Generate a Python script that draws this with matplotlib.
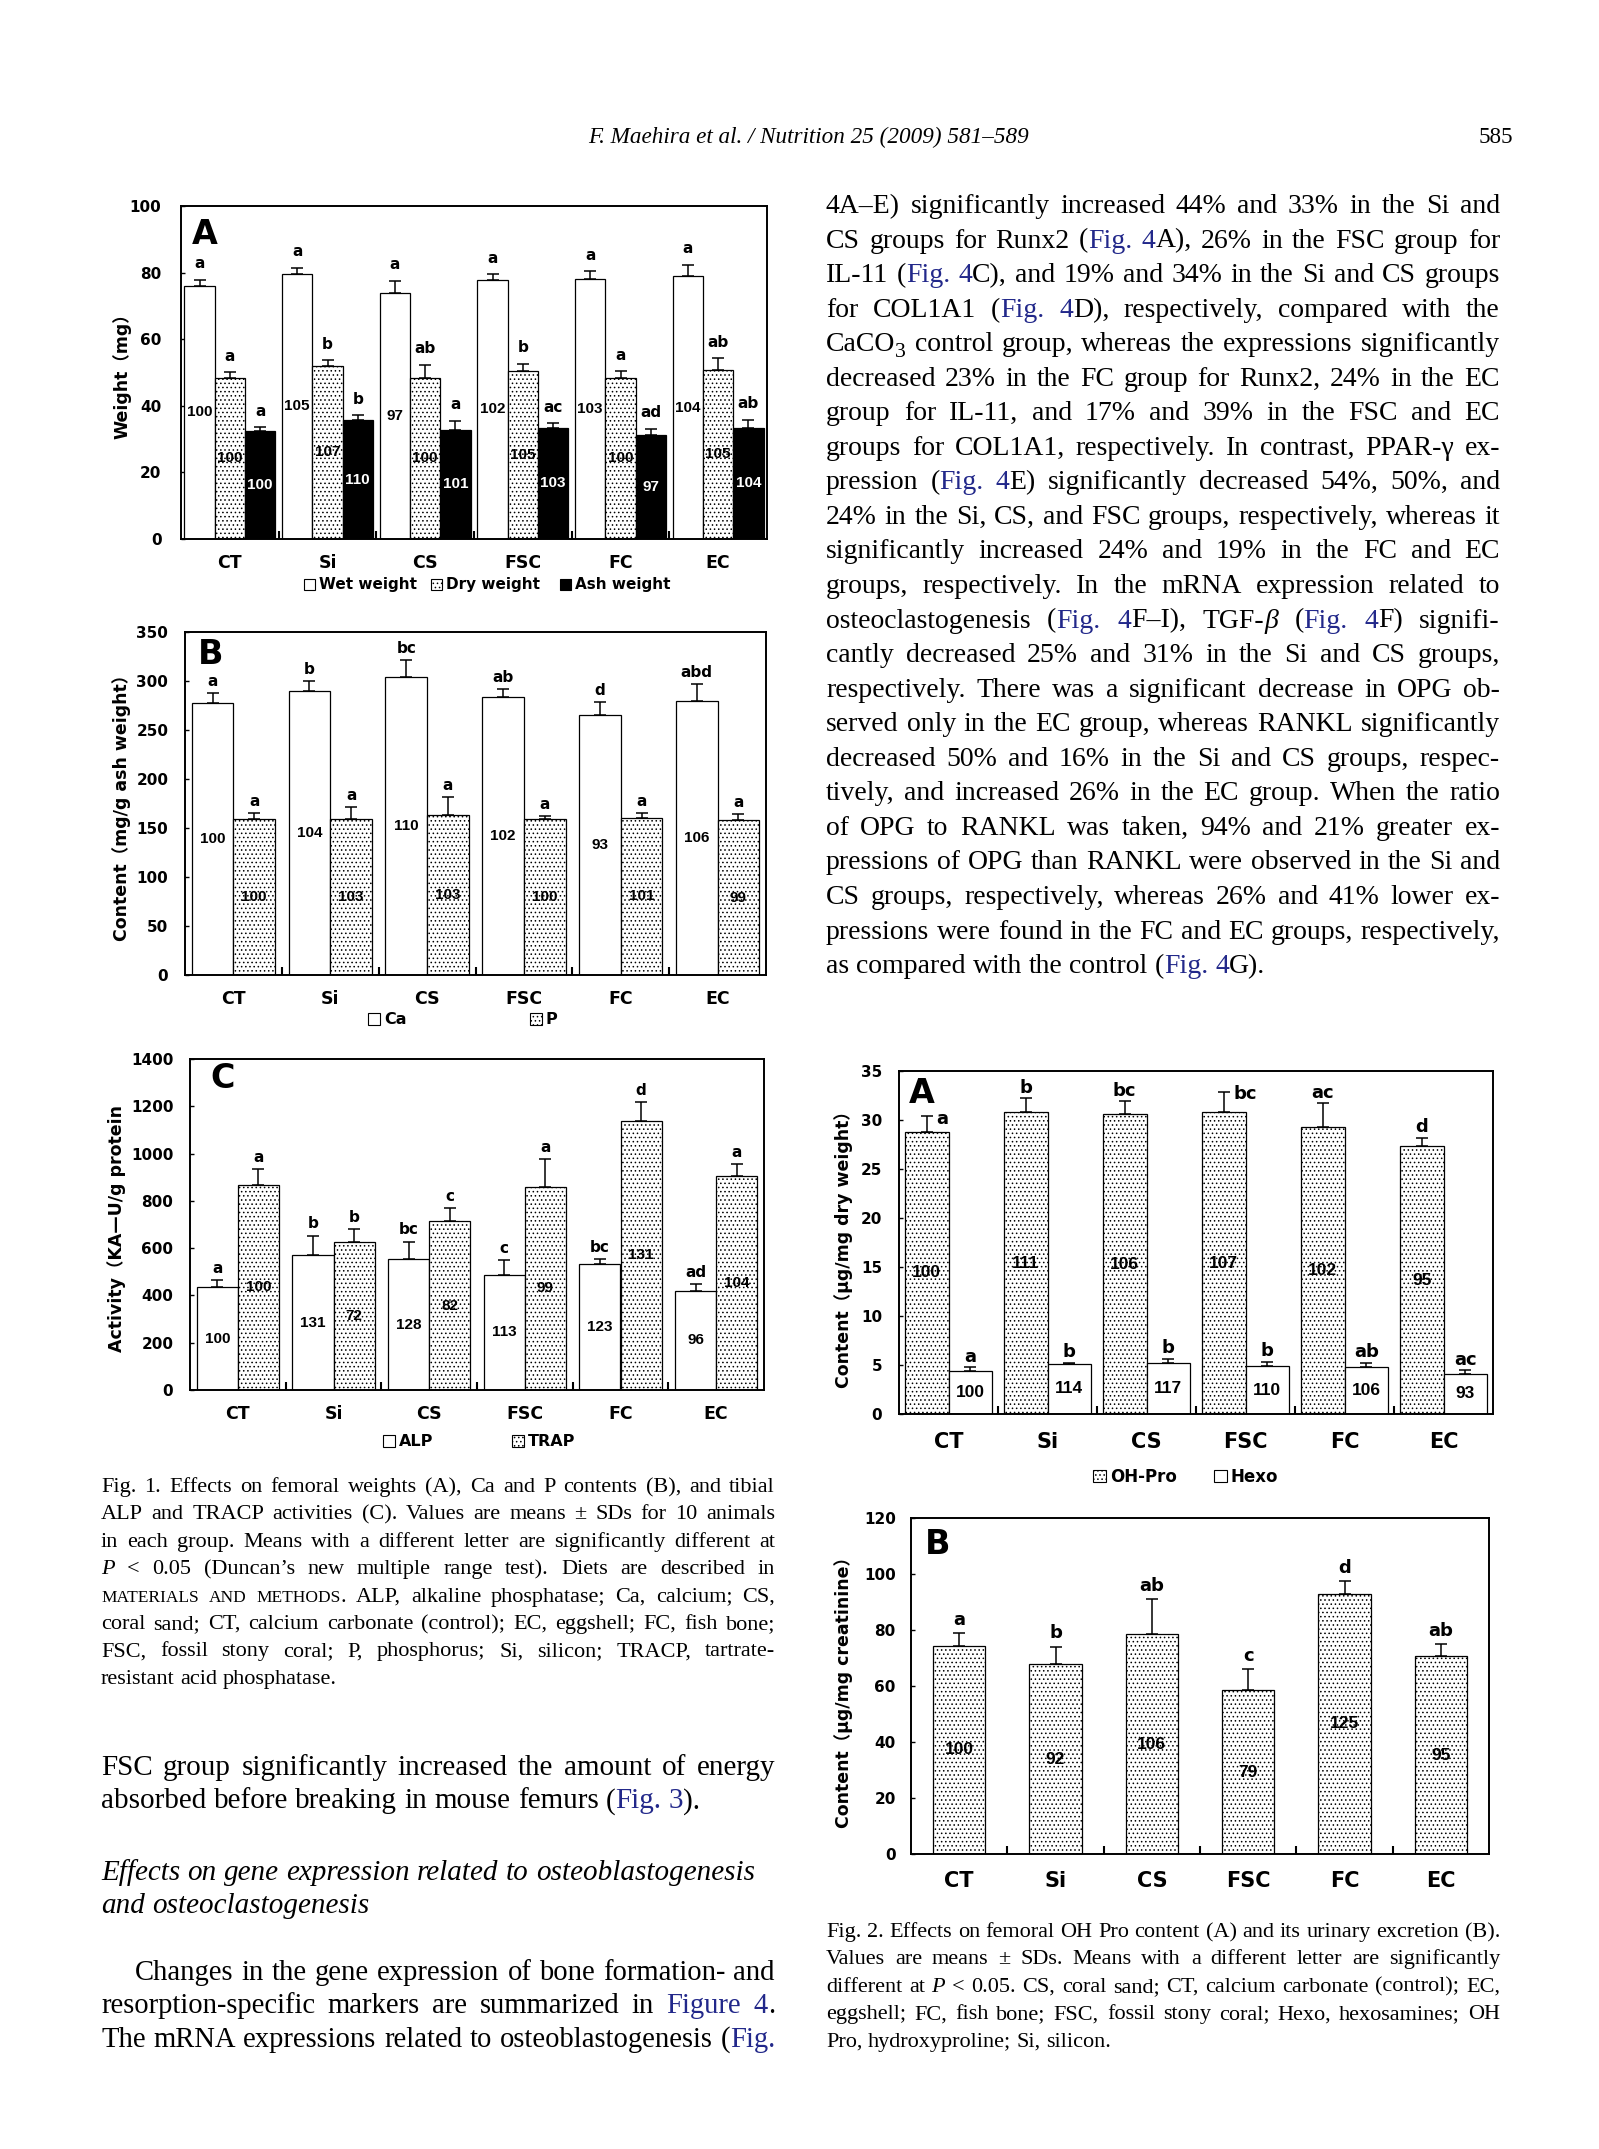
import numpy as np
import matplotlib
matplotlib.use('Agg')
import matplotlib.pyplot as plt
from matplotlib.patches import Patch
from matplotlib.transforms import IdentityTransform

W, H, DPI = 1599, 2149, 100

groups = ['CT', 'Si', 'CS', 'FSC', 'FC', 'EC']

# Fig. 1A femoral weights (mg)
wet = [76.1, 79.6, 74.0, 77.9, 78.2, 78.9]
wet_sd = [1.8, 1.9, 3.6, 1.7, 2.2, 3.5]
dry = [48.4, 52.0, 48.4, 50.5, 48.4, 50.9]
dry_sd = [1.8, 1.7, 4.0, 2.2, 2.1, 3.5]
ash = [32.4, 35.6, 32.8, 33.4, 31.3, 33.4]
ash_sd = [1.2, 1.6, 2.7, 1.4, 1.8, 2.4]
wet_let = ['a', 'a', 'a', 'a', 'a', 'a']
dry_let = ['a', 'b', 'ab', 'b', 'a', 'ab']
ash_let = ['a', 'b', 'a', 'ac', 'ad', 'ab']
wet_pct = [100, 105, 97, 102, 103, 104]
dry_pct = [100, 107, 100, 105, 100, 105]
ash_pct = [100, 110, 101, 103, 97, 104]

# Fig. 1B Ca and P content (mg/g ash weight)
ca = [277.3, 289.4, 303.8, 283.2, 265.2, 279.7]
ca_sd = [10.0, 10.6, 17.9, 8.2, 13.5, 16.9]
p = [159.5, 159.5, 162.9, 159.5, 160.5, 158.1]
p_sd = [5.8, 12.0, 18.3, 2.4, 4.8, 6.2]
ca_let = ['a', 'b', 'bc', 'ab', 'd', 'abd']
p_let = ['a', 'a', 'a', 'a', 'a', 'a']
ca_pct = [100, 104, 110, 102, 93, 106]
p_pct = [100, 103, 103, 100, 101, 99]

# Fig. 1C ALP and TRAP activity (KA-U/g protein)
alp = [434, 570, 552, 488, 534, 419]
alp_sd = [31, 83, 76, 60, 20, 29]
trap = [869, 624, 713, 859, 1139, 905]
trap_sd = [64, 56, 56, 116, 80, 49]
alp_let = ['a', 'b', 'bc', 'c', 'bc', 'ad']
trap_let = ['a', 'b', 'c', 'a', 'd', 'a']
alp_pct = [100, 131, 128, 113, 123, 96]
trap_pct = [100, 72, 82, 99, 131, 104]

# Fig. 2A OH-Pro and Hexo (ug/mg dry weight)
ohpro = [28.8, 30.8, 30.6, 30.8, 29.3, 27.3]
ohpro_sd = [1.6, 1.4, 1.3, 2.1, 2.4, 0.9]
hexo = [4.37, 5.12, 5.22, 4.88, 4.75, 4.13]
hexo_sd = [0.38, 0.10, 0.41, 0.45, 0.47, 0.37]
ohpro_let = ['a', 'b', 'bc', 'bc', 'ac', 'd']
hexo_let = ['a', 'b', 'b', 'b', 'ab', 'ac']
ohpro_pct = [100, 111, 106, 107, 102, 95]
hexo_pct = [100, 114, 117, 110, 106, 93]

# Fig. 2B urinary OH-Pro (ug/mg creatinine)
urine = [74.3, 67.7, 78.5, 58.4, 92.9, 70.7]
urine_sd = [4.6, 6.4, 12.6, 7.7, 4.6, 4.4]
urine_let = ['a', 'b', 'ab', 'c', 'd', 'ab']
urine_pct = [100, 92, 106, 79, 125, 95]

SERIF = 'Liberation Serif'
BLUE = '#22288a'
DOTS = '....'

plt.rcParams['font.family'] = ['DejaVu Sans', 'Noto Sans CJK JP']
plt.rcParams['hatch.linewidth'] = 0.6

fig = plt.figure(figsize=(W / DPI, H / DPI), dpi=DPI)


def box(l, t, r, b):
    return [l / W, 1 - b / H, (r - l) / W, (b - t) / H]


def panel(rect, series, sds, looks, letters, pcts, width, ymax, ystep, tag, tag_off,
          ylabel, ylab_xy, cat_fs=12.5, cat_pad=11, let_fs=11, let_pad=4, pct_fs=11,
          ypad=12, beside=()):
    ax = fig.add_axes(box(*rect))
    x = np.arange(len(groups))
    n = len(series)
    for k in range(n):
        xs = x + (k - (n - 1) / 2) * width
        face, hatch, pcol = looks[k]
        vals = np.array(series[k])
        errs = np.array(sds[k])
        ax.bar(xs, vals, width, color=face, edgecolor='black', hatch=hatch,
               linewidth=0.9, zorder=2)
        ax.errorbar(xs, vals, yerr=[np.zeros(len(vals)), errs], fmt='none',
                    ecolor='black', elinewidth=1.1, capsize=4, capthick=1.1, zorder=3)
        for i in range(len(vals)):
            top = vals[i] + errs[i]
            if (k, i) in beside:
                ax.annotate(letters[k][i], (xs[i], top), xytext=(7, -2),
                            textcoords='offset points', ha='left', va='center',
                            fontsize=let_fs, fontweight='bold')
            else:
                ax.annotate(letters[k][i], (xs[i], top), xytext=(0, let_pad),
                            textcoords='offset points', ha='center', va='bottom',
                            fontsize=let_fs, fontweight='bold')
            ax.text(xs[i], vals[i] * 0.5, str(pcts[k][i]), ha='center', va='center',
                    color=pcol, fontsize=pct_fs, fontweight='bold',
                    family='Liberation Sans', zorder=4)
    ax.set_xlim(-0.5, 5.5)
    ax.set_ylim(0, ymax)
    ax.set_yticks(np.arange(0, ymax + 1, ystep))
    ax.set_xticks(x, groups)
    ax.set_xticks(np.arange(0.5, 5, 1), minor=True)
    ax.tick_params(axis='x', which='major', length=0, pad=cat_pad, labelsize=cat_fs)
    ax.tick_params(axis='x', which='minor', direction='in', length=6, width=1.5)
    ax.tick_params(axis='y', direction='in', length=3, width=1, labelsize=11, pad=ypad)
    for lab in ax.get_xticklabels() + ax.get_yticklabels():
        lab.set_fontweight('bold')
    for s in ax.spines.values():
        s.set_linewidth(1.4)
        s.set_zorder(5)
    ax.annotate(tag, (0, 1), xycoords='axes fraction', xytext=(tag_off[0], -tag_off[1]),
                textcoords='offset pixels', ha='left', va='top', fontsize=24,
                fontweight='bold')
    fig.text(ylab_xy[0] / W, 1 - ylab_xy[1] / H, ylabel, rotation=90, ha='center',
             va='center', fontsize=12.5, fontweight='bold')
    return ax


def key(x, y, label, face, hatch, fs=11.5):
    h = Patch(facecolor=face, edgecolor='black', hatch=hatch, linewidth=0.8)
    fig.legend(handles=[h], labels=[label], loc='center left',
               bbox_to_anchor=(x / W, 1 - y / H), frameon=False, handlelength=0.75,
               handleheight=0.75, handletextpad=0.25, borderpad=0, borderaxespad=0,
               prop={'weight': 'bold', 'size': fs})


WHITE = ('white', None, 'black')
DOTTED = ('white', DOTS, 'black')
BLACK = ('black', None, 'white')

# ---- Fig. 1 ----
panel((181, 206, 767, 539), [wet, dry, ash], [wet_sd, dry_sd, ash_sd],
      [WHITE, DOTTED, BLACK], [wet_let, dry_let, ash_let], [wet_pct, dry_pct, ash_pct],
      0.31, 100, 20, 'A', (11, 12), 'Weight（mg）', (122, 372), ypad=14, let_pad=6)
key(304, 585, 'Wet weight', 'white', None, fs=11)
key(431, 585, 'Dry weight', 'white', DOTS, fs=11)
key(560, 585, 'Ash weight', 'black', None, fs=11)

panel((185, 632, 766, 975), [ca, p], [ca_sd, p_sd], [WHITE, DOTTED],
      [ca_let, p_let], [ca_pct, p_pct], 0.43, 350, 50, 'B', (13, 6),
      'Content（mg/g ash weight）', (122, 803), let_pad=3)
key(368, 1020, 'Ca', 'white', None)
key(530, 1020, 'P', 'white', DOTS)

panel((190, 1059, 764, 1390), [alp, trap], [alp_sd, trap_sd], [WHITE, DOTTED],
      [alp_let, trap_let], [alp_pct, trap_pct], 0.43, 1400, 200, 'C', (20, 3),
      'Activity（KA—U/g protein', (117, 1228), let_pad=3)
key(383, 1442, 'ALP', 'white', None)
key(512, 1442, 'TRAP', 'white', DOTS)

# ---- Fig. 2 ----
panel((899, 1071, 1493, 1414), [ohpro, hexo], [ohpro_sd, hexo_sd], [DOTTED, WHITE],
      [ohpro_let, hexo_let], [ohpro_pct, hexo_pct], 0.44, 35, 5, 'A', (10, 6),
      'Content（μg/mg dry weight）', (844, 1245), cat_fs=15, cat_pad=13, let_fs=13,
      let_pad=1, pct_fs=12.5, beside={(0, 0), (0, 3)})
key(1093, 1477, 'OH-Pro', 'white', DOTS, fs=12)
key(1214, 1477, 'Hexo', 'white', None, fs=12)

panel((911, 1518, 1489, 1854), [urine], [urine_sd], [DOTTED], [urine_let], [urine_pct],
      0.54, 120, 20, 'B', (14, 10), 'Content（μg/mg creatinine）', (844, 1688),
      cat_fs=15, cat_pad=12, let_fs=13, let_pad=3, pct_fs=12.5, ypad=11)

# ---- page text ----
body_right = [
    "4A–E) significantly increased 44% and 33% in the Si and",
    "CS groups for Runx2 ({Fig. 4}A), 26% in the FSC group for",
    "IL-11 ({Fig. 4}C), and 19% and 34% in the Si and CS groups",
    "for COL1A1 ({Fig. 4}D), respectively, compared with the",
    "CaCO~3~ control group, whereas the expressions significantly",
    "decreased 23% in the FC group for Runx2, 24% in the EC",
    "group for IL-11, and 17% and 39% in the FSC and EC",
    "groups for COL1A1, respectively. In contrast, PPAR-γ ex-",
    "pression ({Fig. 4}E) significantly decreased 54%, 50%, and",
    "24% in the Si, CS, and FSC groups, respectively, whereas it",
    "significantly increased 24% and 19% in the FC and EC",
    "groups, respectively. In the mRNA expression related to",
    "osteoclastogenesis ({Fig. 4}F–I), TGF-|β| ({Fig. 4}F) signifi-",
    "cantly decreased 25% and 31% in the Si and CS groups,",
    "respectively. There was a significant decrease in OPG ob-",
    "served only in the EC group, whereas RANKL significantly",
    "decreased 50% and 16% in the Si and CS groups, respec-",
    "tively, and increased 26% in the EC group. When the ratio",
    "of OPG to RANKL was taken, 94% and 21% greater ex-",
    "pressions of OPG than RANKL were observed in the Si and",
    "CS groups, respectively, whereas 26% and 41% lower ex-",
    "pressions were found in the FC and EC groups, respectively,",
    "as compared with the control ({Fig. 4}G).",
]
caption1 = [
    "Fig. 1. Effects on femoral weights (A), Ca and P contents (B), and tibial",
    "ALP and TRACP activities (C). Values are means ± SDs for 10 animals",
    "in each group. Means with a different letter are significantly different at",
    "|P| < 0.05 (Duncan’s new multiple range test). Diets are described in",
    "^materials and methods^. ALP, alkaline phosphatase; Ca, calcium; CS,",
    "coral sand; CT, calcium carbonate (control); EC, eggshell; FC, fish bone;",
    "FSC, fossil stony coral; P, phosphorus; Si, silicon; TRACP, tartrate-",
    "resistant acid phosphatase.",
]
body_left1 = [
    "FSC group significantly increased the amount of energy",
    "absorbed before breaking in mouse femurs ({Fig. 3}).",
]
heading = [
    "Effects on gene expression related to osteoblastogenesis",
    "and osteoclastogenesis",
]
body_left2 = [
    "Changes in the gene expression of bone formation- and",
    "resorption-specific markers are summarized in {Figure 4}.",
    "The mRNA expressions related to osteoblastogenesis ({Fig.}",
]
caption2 = [
    "Fig. 2. Effects on femoral OH Pro content (A) and its urinary excretion (B).",
    "Values are means ± SDs. Means with a different letter are significantly",
    "different at |P| < 0.05. CS, coral sand; CT, calcium carbonate (control); EC,",
    "eggshell; FC, fish bone; FSC, fossil stony coral; Hexo, hexosamines; OH",
    "Pro, hydroxyproline; Si, silicon.",
]


def parse(line):
    words = [[]]
    st = {'blue': False, 'ital': False, 'caps': False, 'sub': False}
    buf = []
    def flush():
        if buf:
            words[-1].append((''.join(buf), dict(st)))
            buf.clear()
    for ch in line:
        if ch in '{}':
            flush(); st['blue'] = ch == '{'
        elif ch == '|':
            flush(); st['ital'] = not st['ital']
        elif ch == '^':
            flush(); st['caps'] = not st['caps']
        elif ch == '~':
            flush(); st['sub'] = not st['sub']
        elif ch == ' ':
            flush(); words.append([])
        else:
            buf.append(ch)
    flush()
    return [w for w in words if w]


def make_words(line, size, italic):
    out = []
    for word in parse(line):
        arts = []
        for txt, st in word:
            small = st['caps'] or st['sub']
            t = fig.text(0, 0, txt.upper() if st['caps'] else txt,
                         transform=IdentityTransform(), ha='left', va='baseline',
                         family=SERIF, fontsize=size * (0.78 if small else 1.0),
                         style='italic' if (italic or st['ital']) else 'normal',
                         color=BLUE if st['blue'] else 'black')
            arts.append((t, st))
        out.append(arts)
    return out


def block(lines, x0, x1, base0, step, size, justify, italic=False, indent=None):
    r = fig.canvas.get_renderer()
    indent = indent or [0] * len(lines)

    def build(sz):
        rows = [make_words(l, sz, italic) for l in lines]
        wid = [[sum(t.get_window_extent(r).width for t, _ in w) for w in row] for row in rows]
        return rows, wid

    rows, wid = build(size)
    space = 0.25 * size * DPI / 72
    ratio = max((sum(wd) + space * (len(wd) - 1)) / (x1 - x0 - ind)
                for wd, j, ind in zip(wid, justify, indent) if j) if any(justify) else 1
    if ratio > 1:
        for row in rows:
            for w in row:
                for t, _ in w:
                    t.remove()
        size = size / ratio * 0.995
        space = 0.25 * size * DPI / 72
        rows, wid = build(size)
    for j, (row, wd) in enumerate(zip(rows, wid)):
        left = x0 + indent[j]
        if justify[j] and len(row) > 1:
            gap = (x1 - left - sum(wd)) / (len(row) - 1)
        else:
            gap = space
        xx = left
        y = H - (base0 + j * step)
        for w, ww in zip(row, wd):
            px = xx
            for t, st in w:
                dy = -0.22 * size * DPI / 72 if st['sub'] else 0
                t.set_position((px, y + dy))
                px += t.get_window_extent(r).width
            xx += ww + gap


block(body_right, 826, 1500, 213, 34.55, 21, [True] * 22 + [False])
block(caption1, 101, 775, 1492, 27.4, 16, [True] * 7 + [False])
block(body_left1, 101, 775, 1775, 33.3, 21, [True, False])
block(heading, 101, 775, 1880, 33.3, 21, [False, False], italic=True)
block(body_left2, 101, 775, 1980, 33.3, 21, [True, True, True], indent=[34, 0, 0])
block(caption2, 826, 1500, 1937, 27.4, 16, [True, True, True, True, False])

# running header
r = fig.canvas.get_renderer()
hdr = fig.text(808, H - 143, 'F. Maehira et al. / Nutrition 25 (2009) 581–589',
               transform=IdentityTransform(), ha='center', va='baseline',
               family=SERIF, style='italic', fontsize=17)
hdr.set_fontsize(17 * 441 / hdr.get_window_extent(r).width)
fig.text(1513, H - 143, '585', transform=IdentityTransform(), ha='right',
         va='baseline', family=SERIF, fontsize=hdr.get_fontsize())

fig.savefig('out.png', dpi=DPI)
